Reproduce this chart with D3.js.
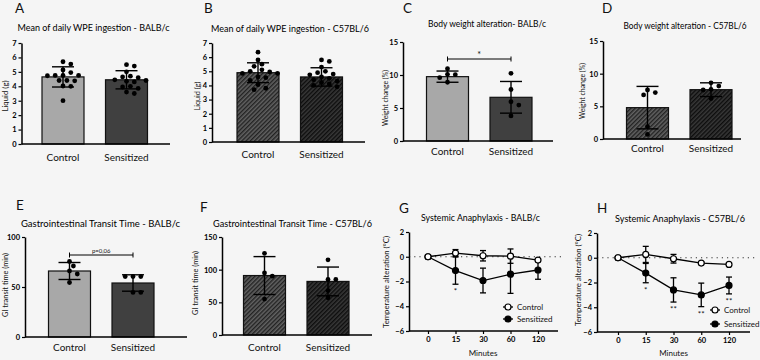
<!DOCTYPE html>
<html>
<head>
<meta charset="utf-8">
<script src="https://cdn.jsdelivr.net/npm/d3@7"></script>
<style>
body { margin: 0; background: #f5f5f5; }
svg { display: block; font-family: Lato, "Open Sans", sans-serif; }
</style>
</head>
<body>
<svg id="chart" width="760" height="360"></svg>
<script>
const groups = ['Control', 'Sensitized'];
const minutes = ['0', '15', '30', '60', '120'];

// A - daily WPE ingestion, BALB/c
const wpeBalbControl = [5.7, 5.54, 5.13, 4.95, 4.75, 4.75, 4.75, 4.73, 4.4, 4.4, 4.38, 4.02, 4.0, 3.0];
const wpeBalbSensitized = [5.5, 5.4, 5.0, 4.7, 4.65, 4.6, 4.45, 4.4, 4.35, 4.3, 4.0, 3.95, 3.85, 3.6, 3.5];
const wpeBalbMean = [4.65, 4.45];
const wpeBalbSd = [0.7, 0.63];

// B - daily WPE ingestion, C57BL/6
const wpeB6Control = [6.35, 5.8, 5.5, 5.35, 5.1, 5.0, 4.95, 4.85, 4.85, 4.6, 4.55, 4.35, 4.05, 3.8, 3.7];
const wpeB6Sensitized = [5.8, 5.7, 5.3, 5.0, 4.9, 4.8, 4.75, 4.6, 4.5, 4.4, 4.3, 4.2, 4.1, 4.0, 3.9];
const wpeB6Mean = [4.9, 4.6];
const wpeB6Sd = [0.7, 0.65];

// C - body weight, BALB/c
const weightBalbControl = [10.95, 10.1, 10.05, 9.6, 8.9];
const weightBalbSensitized = [10.25, 7.8, 5.95, 5.45, 3.8];
const weightBalbMean = [9.75, 6.62];
const weightBalbSd = [0.85, 2.4];

// D - body weight, C57BL/6
const weightB6Control = [7.5, 7.1, 6.75, 1.9, 0.7];
const weightB6Sensitized = [8.6, 8.1, 7.6, 7.5, 6.2];
const weightB6Mean = [4.8, 7.55];
const weightB6Sd = [3.25, 1.05];

// E - GI transit time, BALB/c
const transitBalbControl = [75.5, 71, 66, 63, 54.5];
const transitBalbSensitized = [60.5, 60.5, 60.5, 44.6, 44.6];
const transitBalbMean = [66, 54];
const transitBalbSd = [8.5, 8.2];

// F - GI transit time, C57BL/6
const transitB6Control = [125, 95, 90, 55];
const transitB6Sensitized = [115, 85, 85, 68, 57];
const transitB6Mean = [91, 82];
const transitB6Sd = [29, 22];

// G - systemic anaphylaxis, BALB/c
const anaBalbControl = [0, 0.3, 0.08, 0.05, -0.27];
const anaBalbControlErr = [0, 0.28, 0.42, 0.58, 0.1];
const anaBalbSensitized = [0, -1.12, -1.92, -1.41, -1.07];
const anaBalbSensitizedErr = [0, 1.1, 1.0, 1.55, 0.75];
const anaBalbStars = ['', '*', '', '', ''];

// H - systemic anaphylaxis, C57BL/6
const anaB6Control = [0, 0.27, -0.08, -0.43, -0.54];
const anaB6ControlErr = [0, 0.65, 0.35, 0.08, 0.08];
const anaB6Sensitized = [0, -1.24, -2.6, -3.0, -2.24];
const anaB6SensitizedErr = [0, 0.78, 0.98, 0.95, 0.68];
const anaB6Stars = ['', '*', '**', '**', '**'];

const FONT = 'Lato, "Open Sans", sans-serif';
const svg = d3.select('#chart');
svg.append('rect').attr('width', 760).attr('height', 360).attr('fill', '#f5f5f5');

// hatch patterns for the C57BL/6 bars
const defs = svg.append('defs');
function hatch(id, base, stripe) {
    const p = defs.append('pattern')
        .attr('id', id)
        .attr('width', 3).attr('height', 3)
        .attr('patternUnits', 'userSpaceOnUse')
        .attr('patternTransform', 'rotate(45)');
    p.append('rect').attr('width', 3).attr('height', 3).attr('fill', base);
    p.append('line').attr('x1', 0.7).attr('y1', 0).attr('x2', 0.7).attr('y2', 3)
        .attr('stroke', stripe).attr('stroke-width', 1.4);
}
hatch('hatchCtrl', '#626262', '#222');
hatch('hatchSens', '#383838', '#0d0d0d');

// squeeze a text horizontally so it spans the wanted width
function squeeze(sel, x, y, width, rotate) {
    const len = sel.node().getComputedTextLength();
    const k = Math.min(1.15, width / len);
    sel.attr('transform', `translate(${x},${y})${rotate ? ' rotate(-90)' : ''} scale(${k},1)`);
}

function panelText(letter, lx, ly, title, tx, ty, tw) {
    svg.append('text').attr('x', lx).attr('y', ly)
        .attr('font-size', 13.5).attr('fill', '#111').text(letter);
    const t = svg.append('text')
        .attr('text-anchor', 'middle').attr('font-size', 10.2).attr('fill', '#000')
        .text(title);
    squeeze(t, tx, ty, tw, false);
}

function yAxis(y, ticks, x) {
    const g = svg.append('g')
        .attr('transform', `translate(${x},0)`)
        .call(d3.axisLeft(y).tickValues(ticks).tickFormat(d3.format('d'))
            .tickSize(3).tickSizeOuter(0).tickPadding(2));
    g.attr('font-family', FONT).attr('font-size', 7.5).attr('font-weight', 'bold');
    g.select('.domain').attr('stroke', '#000').attr('stroke-width', 1.5);
    g.selectAll('.tick line').attr('stroke', '#000').attr('stroke-width', 1.2);
    g.selectAll('.tick text').attr('fill', '#000');
}

function yLabel(text, x, y, len) {
    const t = svg.append('text')
        .attr('text-anchor', 'middle').attr('font-size', 7.2).attr('fill', '#111')
        .text(text);
    squeeze(t, x, y, len, true);
}

// simple swarm so points with close values sit side by side
function swarm(values, y, r) {
    const placed = [];
    const sorted = values.slice().sort((a, b) => b - a);
    sorted.forEach(v => {
        const py = y(v);
        for (let k = 0; k < 20; k++) {
            const off = (k % 2 ? 1 : -1) * Math.ceil(k / 2) * 3.9;
            const ok = placed.every(p => Math.hypot(p.dx - off, p.py - py) >= 2 * r + 0.6);
            if (ok) { placed.push({dx: off, py}); break; }
        }
    });
    return placed;
}

const barPanels = [
    {letter: 'A', lx: 15, ly: 13, title: 'Mean of daily WPE ingestion - BALB/c', tx: 93.5, ty: 31, tw: 152,
     axisX: 21.5, right: 170, y0: 144, yTop: 43, yMax: 7, ticks: d3.range(0, 8), c0: 63,
     ylab: 'Liquid (g)', ylx: 8, yly: 96, yll: 31, catY: 161,
     fills: ['#a8a8a8', '#404040'], pts: [wpeBalbControl, wpeBalbSensitized], mean: wpeBalbMean, sd: wpeBalbSd},
    {letter: 'B', lx: 204, ly: 13, title: 'Mean of daily WPE ingestion - C57BL/6', tx: 290, ty: 32, tw: 158,
     axisX: 212, right: 365, y0: 142, yTop: 43, yMax: 7, ticks: d3.range(0, 8), c0: 258,
     ylab: 'Liquid (g)', ylx: 200, yly: 96, yll: 29, catY: 158,
     fills: ['url(#hatchCtrl)', 'url(#hatchSens)'], pts: [wpeB6Control, wpeB6Sensitized], mean: wpeB6Mean, sd: wpeB6Sd},
    {letter: 'C', lx: 403, ly: 13, title: 'Body weight alteration- BALB/c', tx: 487, ty: 27, tw: 118,
     axisX: 403, right: 553, y0: 141, yTop: 42, yMax: 15, ticks: [0, 5, 10, 15], c0: 447.5,
     ylab: 'Weight change (%)', ylx: 388, yly: 98, yll: 56, catY: 155,
     fills: ['#a8a8a8', '#404040'], pts: [weightBalbControl, weightBalbSensitized], mean: weightBalbMean, sd: weightBalbSd,
     sig: {y: 59, text: '*', size: 9}},
    {letter: 'D', lx: 602, ly: 13, title: 'Body weight alteration - C57BL/6', tx: 685, ty: 29, tw: 123,
     axisX: 603, right: 741, y0: 139, yTop: 41, yMax: 15, ticks: [0, 5, 10, 15], c0: 647.5,
     ylab: 'Weight change (%)', ylx: 585, yly: 91, yll: 56, catY: 152,
     fills: ['url(#hatchCtrl)', 'url(#hatchSens)'], pts: [weightB6Control, weightB6Sensitized], mean: weightB6Mean, sd: weightB6Sd},
    {letter: 'E', lx: 16, ly: 210, title: 'Gastrointestinal Transit Time - BALB/c', tx: 100.5, ty: 227, tw: 159,
     axisX: 25, right: 187, y0: 337, yTop: 237, yMax: 100, ticks: [0, 50, 100], c0: 69.5,
     ylab: 'GI transit time (min)', ylx: 8, yly: 285, yll: 64, catY: 351,
     fills: ['#a8a8a8', '#404040'], pts: [transitBalbControl, transitBalbSensitized], mean: transitBalbMean, sd: transitBalbSd,
     sig: {y: 255, text: 'p=0,06', size: 6}},
    {letter: 'F', lx: 200, ly: 212, title: 'Gastrointestinal Transit Time - C57BL/6', tx: 292.5, ty: 227, tw: 159,
     axisX: 222, right: 372, y0: 335, yTop: 237, yMax: 150, ticks: [0, 50, 100, 150], c0: 264.5,
     ylab: 'GI transit time (min)', ylx: 198, yly: 283, yll: 64, catY: 351,
     fills: ['url(#hatchCtrl)', 'url(#hatchSens)'], pts: [transitB6Control, transitB6Sensitized], mean: transitB6Mean, sd: transitB6Sd}
];

const BAR_W = 42, STEP = 63.5, CAP = 22, R = 2.4;

barPanels.forEach(p => {
    const y = d3.scaleLinear().domain([0, p.yMax]).range([p.y0, p.yTop]);
    const x = d3.scalePoint().domain(groups).range([p.c0, p.c0 + STEP]);
    panelText(p.letter, p.lx, p.ly, p.title, p.tx, p.ty, p.tw);

    svg.append('g').selectAll('rect').data(groups).join('rect')
        .attr('x', d => x(d) - BAR_W / 2)
        .attr('y', (d, i) => y(p.mean[i]))
        .attr('width', BAR_W)
        .attr('height', (d, i) => p.y0 - y(p.mean[i]))
        .attr('fill', (d, i) => p.fills[i])
        .attr('stroke', '#111').attr('stroke-width', 1.2);

    // error bars (mean +/- sd)
    const eb = svg.append('g').attr('stroke', '#000').attr('stroke-width', 1.4);
    groups.forEach((gName, i) => {
        const cx = x(gName);
        const top = y(p.mean[i] + p.sd[i]), bot = y(Math.max(0, p.mean[i] - p.sd[i]));
        eb.append('line').attr('x1', cx).attr('x2', cx).attr('y1', top).attr('y2', bot);
        eb.append('line').attr('x1', cx - CAP / 2).attr('x2', cx + CAP / 2).attr('y1', top).attr('y2', top);
        eb.append('line').attr('x1', cx - CAP / 2).attr('x2', cx + CAP / 2).attr('y1', bot).attr('y2', bot);
    });

    // individual mice
    groups.forEach((gName, i) => {
        const pts = swarm(p.pts[i], y, R);
        svg.append('g').selectAll('circle').data(pts).join('circle')
            .attr('cx', d => x(gName) + d.dx)
            .attr('cy', d => d.py)
            .attr('r', R)
            .attr('fill', '#000');
    });

    svg.append('line').attr('x1', p.axisX).attr('x2', p.right)
        .attr('y1', p.y0).attr('y2', p.y0)
        .attr('stroke', '#000').attr('stroke-width', 1.5);
    yAxis(y, p.ticks, p.axisX);
    yLabel(p.ylab, p.ylx, p.yly, p.yll);

    svg.append('g').selectAll('text').data(groups).join('text')
        .attr('x', d => x(d)).attr('y', p.catY)
        .attr('text-anchor', 'middle').attr('font-size', 10).attr('fill', '#111')
        .text(d => d);

    if (p.sig) {
        const x1 = x(groups[0]), x2 = x(groups[1]);
        const s = svg.append('g').attr('stroke', '#000').attr('stroke-width', 1);
        s.append('line').attr('x1', x1).attr('x2', x2).attr('y1', p.sig.y).attr('y2', p.sig.y);
        s.append('line').attr('x1', x1).attr('x2', x1).attr('y1', p.sig.y - 2.5).attr('y2', p.sig.y + 2.5);
        s.append('line').attr('x1', x2).attr('x2', x2).attr('y1', p.sig.y - 2.5).attr('y2', p.sig.y + 2.5);
        svg.append('text').attr('x', (x1 + x2) / 2).attr('y', p.sig.y - (p.sig.text === '*' ? 1 : 2.5))
            .attr('text-anchor', 'middle').attr('font-size', p.sig.size).attr('fill', '#111')
            .text(p.sig.text);
    }
});

const linePanels = [
    {letter: 'G', lx: 399, ly: 213, title: 'Systemic Anaphylaxis - BALB/c', tx: 480.5, ty: 221, tw: 119,
     axisX: 409, right: 558, dotEnd: 562, yTop: 232, yBot: 331, xr: [428, 538],
     ylx: 389, yly: 282, yll: 92, legX: 508, legY: 307, legDy: 12, starOff: 10,
     ctrl: anaBalbControl, ctrlErr: anaBalbControlErr, sens: anaBalbSensitized, sensErr: anaBalbSensitizedErr, stars: anaBalbStars},
    {letter: 'H', lx: 597, ly: 213, title: 'Systemic Anaphylaxis - C57BL/6', tx: 680, ty: 222, tw: 130,
     axisX: 597, right: 750, dotEnd: 757, yTop: 233, yBot: 332, xr: [618, 729],
     ylx: 581, yly: 280, yll: 92, legX: 715, legY: 310, legDy: 14, starOff: 10,
     ctrl: anaB6Control, ctrlErr: anaB6ControlErr, sens: anaB6Sensitized, sensErr: anaB6SensitizedErr, stars: anaB6Stars}
];

linePanels.forEach(p => {
    const y = d3.scaleLinear().domain([-6, 2]).range([p.yBot, p.yTop]);
    const x = d3.scalePoint().domain(minutes).range(p.xr);
    panelText(p.letter, p.lx, p.ly, p.title, p.tx, p.ty, p.tw);

    svg.append('line').attr('x1', p.axisX).attr('x2', p.dotEnd)
        .attr('y1', y(0)).attr('y2', y(0))
        .attr('stroke', '#333').attr('stroke-width', 1.2).attr('stroke-dasharray', '1.2,4');

    const series = [
        {vals: p.sens, err: p.sensErr, fill: '#000'},
        {vals: p.ctrl, err: p.ctrlErr, fill: '#fff'}
    ];
    series.forEach(s => {
        const eb = svg.append('g').attr('stroke', '#000').attr('stroke-width', 1.3);
        minutes.forEach((m, i) => {
            if (!s.err[i]) return;
            const cx = x(m), t = y(s.vals[i] + s.err[i]), b = y(s.vals[i] - s.err[i]);
            eb.append('line').attr('x1', cx).attr('x2', cx).attr('y1', t).attr('y2', b);
            eb.append('line').attr('x1', cx - 3).attr('x2', cx + 3).attr('y1', t).attr('y2', t);
            eb.append('line').attr('x1', cx - 3).attr('x2', cx + 3).attr('y1', b).attr('y2', b);
        });
        svg.append('path').datum(s.vals)
            .attr('d', d3.line().x((d, i) => x(minutes[i])).y(d => y(d)))
            .attr('fill', 'none').attr('stroke', '#000').attr('stroke-width', 1.3);
    });
    series.forEach(s => {
        svg.append('g').selectAll('circle').data(s.vals).join('circle')
            .attr('cx', (d, i) => x(minutes[i])).attr('cy', d => y(d))
            .attr('r', 3).attr('fill', s.fill).attr('stroke', '#000').attr('stroke-width', 1.2);
    });

    svg.append('g').selectAll('text').data(p.stars).join('text')
        .attr('x', (d, i) => x(minutes[i]))
        .attr('y', (d, i) => y(p.sens[i] - p.sensErr[i]) + p.starOff)
        .attr('text-anchor', 'middle').attr('font-size', 8).attr('fill', '#111')
        .text(d => d);

    // axes
    svg.append('line').attr('x1', p.axisX).attr('x2', p.right)
        .attr('y1', p.yBot).attr('y2', p.yBot)
        .attr('stroke', '#000').attr('stroke-width', 1.5);
    const gx = svg.append('g').attr('transform', `translate(0,${p.yBot})`)
        .call(d3.axisBottom(x).tickSize(3).tickPadding(3));
    gx.select('.domain').remove();
    gx.attr('font-family', FONT).attr('font-size', 7.5).attr('font-weight', 'bold');
    gx.selectAll('.tick line').attr('stroke', '#000').attr('stroke-width', 1.2);
    gx.selectAll('.tick text').attr('fill', '#000');
    yAxis(y, [-6, -4, -2, 0, 2], p.axisX);
    yLabel('Temperature alteration (°C)', p.ylx, p.yly, p.yll);

    svg.append('text').attr('x', (p.xr[0] + p.xr[1]) / 2).attr('y', 356)
        .attr('text-anchor', 'middle').attr('font-size', 8).attr('fill', '#111').text('Minutes');

    // legend
    const leg = [{name: 'Control', fill: '#fff'}, {name: 'Sensitized', fill: '#000'}];
    leg.forEach((l, i) => {
        const ly = p.legY + i * p.legDy;
        svg.append('line').attr('x1', p.legX - 5).attr('x2', p.legX + 5).attr('y1', ly).attr('y2', ly)
            .attr('stroke', '#000').attr('stroke-width', 1.3);
        svg.append('circle').attr('cx', p.legX).attr('cy', ly).attr('r', 3)
            .attr('fill', l.fill).attr('stroke', '#000').attr('stroke-width', 1.2);
        svg.append('text').attr('x', p.legX + 9).attr('y', ly + 3)
            .attr('font-size', 8).attr('fill', '#111').text(l.name);
    });
});
</script>
</body>
</html>
